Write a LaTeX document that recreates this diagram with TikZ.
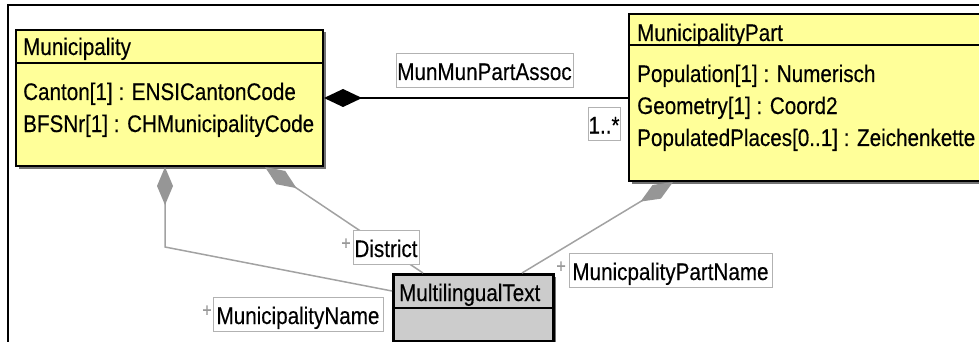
\documentclass[tikz,border=0pt]{standalone}
\usepackage{fontspec}
\setmainfont{Liberation Sans}[FakeStretch=0.86,FakeBold=0.3]
\usetikzlibrary{arrows.meta,shadows,calc}
\definecolor{clsyellow}{RGB}{255,255,153}
\definecolor{clsgray}{RGB}{204,204,204}
\definecolor{linkgray}{RGB}{162,162,162}
\definecolor{diagray}{RGB}{150,150,150}
\begin{document}
\begin{tikzpicture}[x=1pt,y=-1pt,
  font=\fontsize{24}{28}\selectfont,
  clsbox/.style={draw=black, line width=2pt, inner sep=0, anchor=north west,
    drop shadow={shadow xshift=2.5pt, shadow yshift=-2.5pt, fill=black!55, opacity=1}},
  sepline/.style={line width=1.2pt},
  txt/.style={anchor=base west, inner sep=0},
  lbl/.style={fill=white, draw=gray!60, line width=0.9pt, inner sep=0,
    text height=20pt, text depth=0pt,
    drop shadow={shadow xshift=1.3pt, shadow yshift=-1.3pt, fill=black, opacity=1}},
  plus/.style={text=gray!80, font=\fontsize{19}{19}\selectfont, inner sep=0},
  link/.style={draw=linkgray, line width=1.5pt},
  gdiam/.style={{Diamond[length=38pt,width=16pt,color=diagray]}-},
  comp/.style={draw=black, line width=1.5pt, {Diamond[length=38pt,width=18pt]}-}
]
\useasboundingbox (0,0) rectangle (979,342);
\clip (0,0) rectangle (979,342);
% outer frame
\draw[line width=1.5pt] (8,360) -- (8,5) -- (1000,5);

% Municipality class
\node[clsbox, fill=clsyellow, minimum width=307pt, minimum height=136pt] (mun) at (15,29) {};
\draw[sepline] ($(mun.north west)+(0,34)$) -- ($(mun.north east)+(0,34)$);
\node[txt] (munT) at (23,55) {Municipality};
\node[txt] (munA1) at (23,100) {Canton[1] : ENSICantonCode};
\node[txt] (munA2) at (23,132) {BFSNr[1] : CHMunicipalityCode};

% MunicipalityPart class
\node[clsbox, fill=clsyellow, minimum width=380pt, minimum height=167pt] (mpart) at (628,13) {};
\draw[sepline] ($(mpart.north west)+(0,32)$) -- ($(mpart.north east)+(0,32)$);
\node[txt] (mpartT) at (637,41) {MunicipalityPart};
\node[txt] (mpartA1) at (637,82) {Population[1] : Numerisch};
\node[txt] (mpartA2) at (637,114) {Geometry[1] : Coord2};
\node[txt] (mpartA3) at (637,146) {PopulatedPlaces[0..1] : Zeichenkette};

% MultilingualText class
\node[clsbox, fill=clsgray, line width=2.5pt, minimum width=160pt, minimum height=67pt,
  drop shadow={shadow xshift=2pt, shadow yshift=-2pt, fill=black, opacity=1}] (mlt) at (392,273) {};
\draw[sepline] ($(mlt.north west)+(0,35)$) -- ($(mlt.north east)+(0,35)$);
\node[txt] (mltT) at (399,301) {MultilingualText};

% composition Municipality -> MunicipalityPart
\draw[comp] (mun.east) -- (mun.east -| mpart.west);

% gray compositions to MultilingualText
\coordinate (bend) at (165,247);
\draw[link, gdiam] ($(mun.south west)+(150,0)$) -- (bend) -- ($(mlt.north west)+(0,18)$);
\draw[link, gdiam] ($(mun.south west)+(250,0)$) -- ($(mlt.north west)+(31,0)$);
\draw[link, gdiam] ($(mpart.south west)+(45,0)$) -- ($(mlt.north west)+(130,0)$);

% labels
\node[lbl, minimum width=177pt, minimum height=34pt] (assoc) at (484.5,70) {MunMunPartAssoc};
\node[lbl, minimum width=32pt, minimum height=33pt] (mult) at (604,123.5) {1..*};
\node[lbl, minimum width=66pt, minimum height=34pt] (dist) at (386,247) {District};
\node[lbl, minimum width=170pt, minimum height=34pt] (mname) at (298,314) {MunicipalityName};
\node[lbl, minimum width=203pt, minimum height=34pt] (mpname) at (670.5,270) {MunicpalityPartName};
\node[plus] (p1) at (346,244) {+};
\node[plus] (p2) at (207,311) {+};
\node[plus] (p3) at (561,267) {+};
\end{tikzpicture}
\end{document}
